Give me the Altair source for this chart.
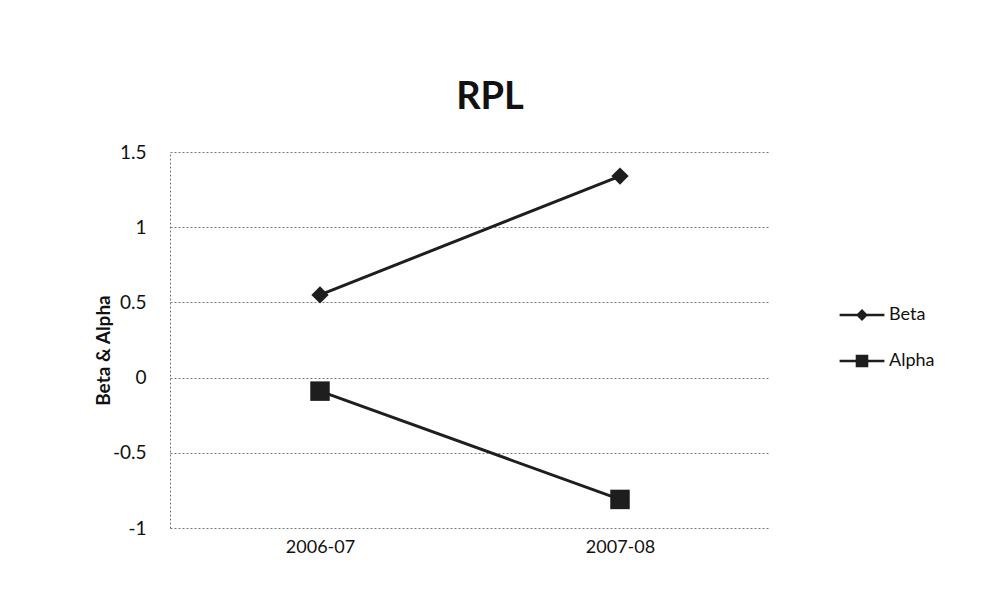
import altair as alt
import pandas as pd

years = ["2006-07", "2007-08"]
series_names = ["Beta", "Alpha"]
beta = [0.55, 1.34]
alpha = [-0.09, -0.81]
y_ticks = [-1, -0.5, 0, 0.5, 1, 1.5]

rows = []
for s, vals in zip(series_names, [beta, alpha]):
    for y, v in zip(years, vals):
        rows.append({"year": y, "series": s, "value": v})
df = pd.DataFrame(rows)

FONT = "Lato"
INK = "#1e1e1e"

x_enc = alt.X("year:N", sort=years,
              scale=alt.Scale(type="point", padding=0.5),
              axis=alt.Axis(title=None, ticks=False, domain=False, grid=False,
                            labelFontSize=18, labelFont=FONT, labelColor="#111",
                            labelPadding=10, labelAngle=0))
y_enc = alt.Y("value:Q",
              scale=alt.Scale(domain=[-1, 1.5], nice=False, zero=False),
              axis=alt.Axis(title="Beta & Alpha", values=y_ticks, ticks=False,
                            labelExpr="datum.value + ''",
                            labelFontSize=19, labelFont=FONT, labelColor="#111",
                            labelPadding=24,
                            grid=True, gridDash=[2, 2], gridColor="#777", gridWidth=1,
                            domain=True, domainDash=[2, 2], domainColor="#777",
                            titleFont=FONT, titleFontSize=19, titleFontWeight="bold",
                            titleColor="#111", titleX=-67, titleY=198,
                            titleAlign="center", titleBaseline="middle"))

base = alt.Chart(df)

lines = base.mark_line(strokeWidth=3, color=INK).encode(
    x=x_enc, y=y_enc, detail="series:N")

beta_pts = base.transform_filter(alt.datum.series == "Beta").mark_point(
    filled=True, opacity=1, color=INK, shape="diamond", size=300).encode(x=x_enc, y=y_enc)
alpha_pts = base.transform_filter(alt.datum.series == "Alpha").mark_point(
    filled=True, opacity=1, color=INK, shape="square", size=380).encode(x=x_enc, y=y_enc)

bar = "M-3.2,-0.18L3.2,-0.18L3.2,0.18L-3.2,0.18Z"
beta_sym = bar + "M0,-0.85L0.85,0L0,0.85L-0.85,0Z"
alpha_sym = bar + "M-0.9,-0.9L0.9,-0.9L0.9,0.9L-0.9,0.9Z"

legend_layer = base.mark_point(filled=True, opacity=0, color=INK).encode(
    x=x_enc, y=y_enc,
    shape=alt.Shape("series:N", scale=alt.Scale(domain=series_names, range=[beta_sym, alpha_sym]),
                    legend=alt.Legend(title=None, orient="none", legendX=683, legendY=154,
                                      labelFont=FONT, labelFontSize=18, labelColor="#111",
                                      symbolSize=196,
                                      symbolFillColor=INK,
                                      symbolOpacity=1, labelOffset=18, rowPadding=27,
                                      padding=0)),
)

chart = alt.layer(lines, beta_pts, alpha_pts, legend_layer).properties(
    width=600, height=376,
    title=alt.TitleParams("RPL", fontSize=38, fontWeight="bold", font=FONT,
                          anchor="middle", dx=20, offset=26, color="#111"),
    autosize=alt.AutoSizeParams(type="none"),
    padding={"left": 162, "top": 144, "right": 208, "bottom": 80},
).configure(background="white").configure_view(stroke=None)

chart.save("out.html", embed_options={"renderer": "svg", "actions": False})
